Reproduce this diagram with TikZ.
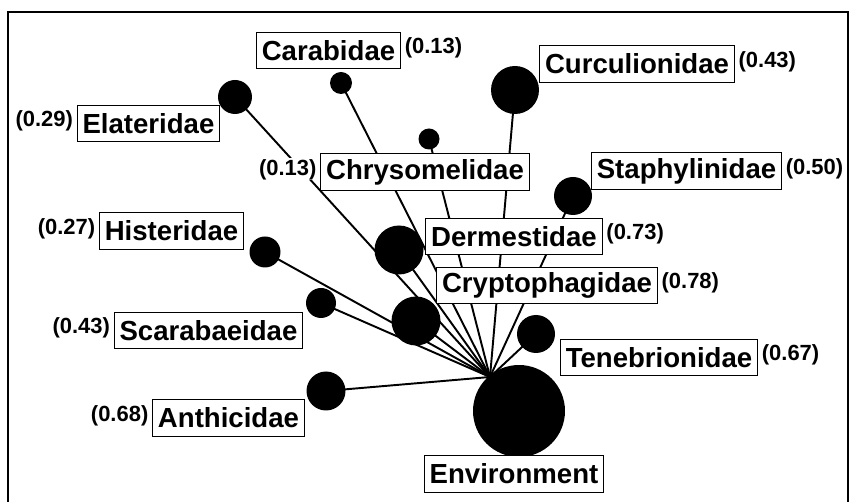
\documentclass[tikz,border=0pt]{standalone}
\usepackage{fontspec}
\setmainfont{Liberation Sans}
\usetikzlibrary{positioning}

\begin{document}
\begin{tikzpicture}[x=0.02cm,y=-0.02cm,
        taxon/.style={draw,fill=white,line width=0.6pt,inner xsep=3pt,inner ysep=0pt,
            minimum height=21pt,font=\fontsize{15.7}{18}\selectfont\bfseries},
        val/.style={fill=white,inner sep=0.5pt,yshift=1.5pt,font=\fontsize{12.5}{14}\selectfont\bfseries},
        dot/.style={circle,fill=black,inner sep=0pt},
        link/.style={line width=1.1pt}]
            \useasboundingbox (0,0) rectangle (852,502);
            \draw[line width=1.2pt] (8,502) -- (8,12) -- (848,12) -- (848,502);

            % circles
            \node[dot,minimum size=0.68cm] (cElat) at (235,97) {};
            \node[dot,minimum size=0.44cm] (cCara) at (341,83) {};
            \node[dot,minimum size=0.42cm] (cChry) at (429,139) {};
            \node[dot,minimum size=0.96cm] (cCurc) at (515,90) {};
            \node[dot,minimum size=0.76cm] (cStap) at (573,196) {};
            \node[dot,minimum size=0.98cm] (cDerm) at (399,250) {};
            \node[dot,minimum size=0.62cm] (cHist) at (265,252) {};
            \node[dot,minimum size=0.98cm] (cCryp) at (416,321) {};
            \node[dot,minimum size=0.60cm] (cScar) at (321,303) {};
            \node[dot,minimum size=0.76cm] (cTene) at (536,334) {};
            \node[dot,minimum size=0.78cm] (cAnth) at (326,391) {};
            \node[dot,minimum size=1.84cm] (cEnv) at (519,411) {};
            \coordinate (hub) at (490,377);

            \foreach \c in {cElat,cCara,cChry,cCurc,cStap,cDerm,cHist,cCryp,cScar,cTene,cAnth}
                \draw[link] (\c.center) -- (hub);

            % labels
            \node[taxon] (cara) at (328.5,50.5) {Carabidae};
            \node[taxon] (curc) at (637,64) {Curculionidae};
            \node[taxon] (elat) at (148.5,123.5) {Elateridae};
            \node[taxon] (chry) at (425,172) {Chrysomelidae};
            \node[taxon] (stap) at (686.5,171) {Staphylinidae};
            \node[taxon] (hist) at (171.5,231) {Histeridae};
            \node[taxon] (derm) at (514,236.5) {Dermestidae};
            \node[taxon] (cryp) at (547,285.5) {Cryptophagidae\ };
            \node[taxon] (scar) at (208.5,330.5) {Scarabaeidae};
            \node[taxon] (tene) at (659,357.5) {Tenebrionidae};
            \node[taxon] (anth) at (228.5,418) {Anthicidae};
            \node[taxon] (env) at (514,474) {Environment};

            \node[val,right=1.5pt of cara] {(0.13)};
            \node[val,right=1.5pt of curc] {(0.43)};
            \node[val,left=1.5pt of elat] {(0.29)};
            \node[val,left=1.5pt of chry] {(0.13)};
            \node[val,right=1.5pt of stap] {(0.50)};
            \node[val,left=1.5pt of hist] {(0.27)};
            \node[val,right=1.5pt of derm] {(0.73)};
            \node[val,right=1.5pt of cryp] {(0.78)};
            \node[val,left=1.5pt of scar] {(0.43)};
            \node[val,right=1.5pt of tene] {(0.67)};
            \node[val,left=1.5pt of anth] {(0.68)};
        \end{tikzpicture}
\end{document}
